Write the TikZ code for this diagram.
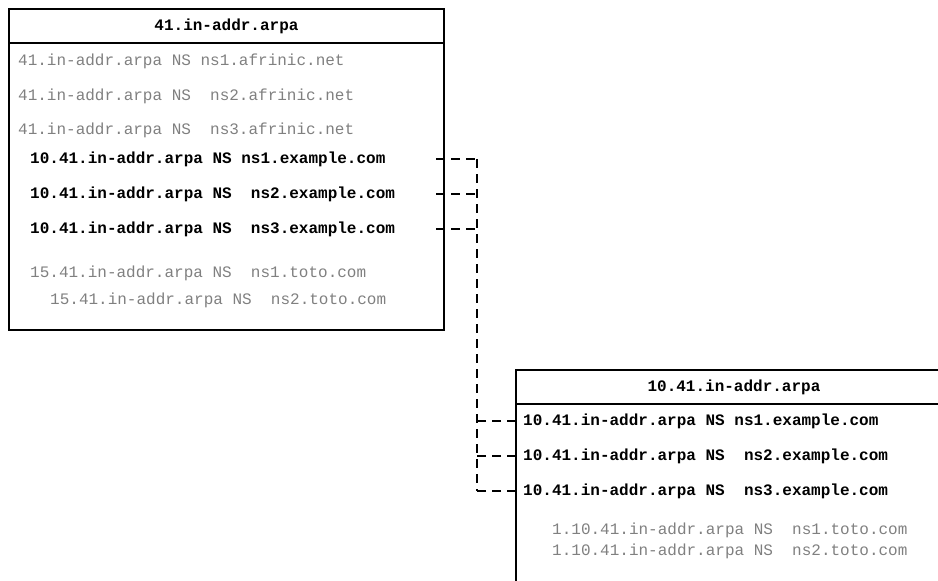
\documentclass[tikz,border=0pt]{standalone}
\usepackage{fontspec}
\setmonofont{Liberation Mono}
\usetikzlibrary{calc}
\tikzset{
	zonebox/.style={draw, line width=2.8pt, inner sep=0pt, outer sep=0pt, anchor=north west},
	rr/.style={anchor=west, inner sep=0pt, font=\ttfamily\fontsize{16}{18}\selectfont, text=black!50},
	rrbold/.style={rr, text=black, font=\ttfamily\bfseries\fontsize{16}{18}\selectfont},
	link/.style={line width=2pt, dash pattern=on 9pt off 6pt}
}
\begin{document}
\begin{tikzpicture}[x=1pt,y=-1pt]
				\path[use as bounding box, clip] (0,0) rectangle (938,581);
				
				% parent zone
				\node[zonebox, minimum width=435pt, minimum height=34pt] (h1) at (9,9) {};
				\node[rrbold] at (h1.center) [anchor=center] {41.in-addr.arpa};
				\node[zonebox, minimum width=435pt, minimum height=287pt] (b1) at (h1.south west) {};
				\node[rr] (a1) at (18,61) {41.in-addr.arpa NS ns1.afrinic.net};
				\node[rr] (a2) at (18,96) {41.in-addr.arpa NS\ \ ns2.afrinic.net};
				\node[rr] (a3) at (18,130) {41.in-addr.arpa NS\ \ ns3.afrinic.net};
				\node[rrbold] (r1) at (30,159) {10.41.in-addr.arpa NS ns1.example.com};
				\node[rrbold] (r2) at (30,194) {10.41.in-addr.arpa NS\ \ ns2.example.com};
				\node[rrbold] (r3) at (30,229) {10.41.in-addr.arpa NS\ \ ns3.example.com};
				\node[rr] (t1) at (30,273) {15.41.in-addr.arpa NS\ \ ns1.toto.com};
				\node[rr] (t2) at (50,300) {15.41.in-addr.arpa NS\ \ ns2.toto.com};
				
				% child zone
				\node[zonebox, minimum width=436pt, minimum height=34pt] (h2) at (516,370) {};
				\node[rrbold] at (h2.center) [anchor=center] {10.41.in-addr.arpa};
				\node[zonebox, minimum width=436pt, minimum height=240pt] (b2) at (h2.south west) {};
				\node[rrbold] (s1) at (523,421) {10.41.in-addr.arpa NS ns1.example.com};
				\node[rrbold] (s2) at (523,456) {10.41.in-addr.arpa NS\ \ ns2.example.com};
				\node[rrbold] (s3) at (523,491) {10.41.in-addr.arpa NS\ \ ns3.example.com};
				\node[rr] (u1) at (552,530) {1.10.41.in-addr.arpa NS\ \ ns1.toto.com};
				\node[rr] (u2) at (552,551) {1.10.41.in-addr.arpa NS\ \ ns2.toto.com};
				
				% delegation
				\coordinate (bus) at (477,159);
				\foreach \r in {r1,r2,r3}
					\draw[link] ($(b1.east |- \r)+(-8,0)$) -- (bus |- \r);
				\draw[link] (bus |- r1) -- (bus |- s3);
				\foreach \s in {s1,s2,s3}
					\draw[link] (b2.west |- \s) -- (bus |- \s);
			\end{tikzpicture}
\end{document}
